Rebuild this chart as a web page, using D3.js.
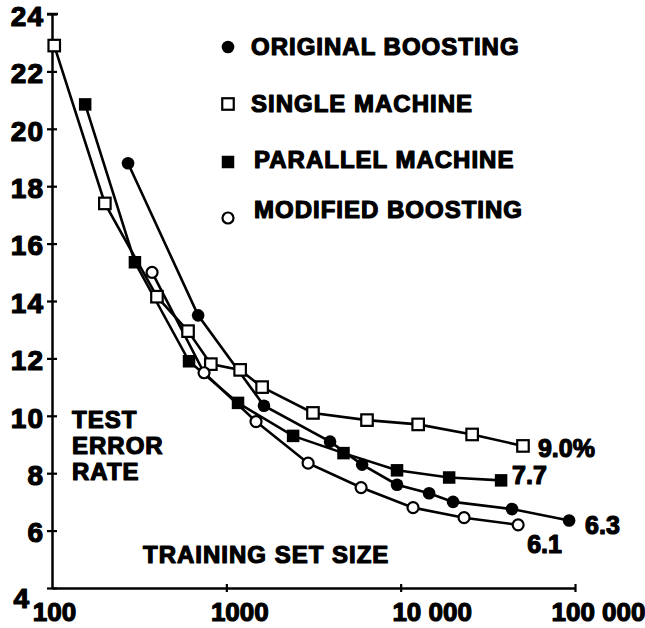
<!DOCTYPE html>
<html>
<head>
    <title></title>
    <style>
        body { margin: 0; background: #fff; }
        text { font-family: "Liberation Sans", Arial, sans-serif; font-weight: bold; fill: #000; stroke: #000; stroke-width: 1.2px; stroke-linejoin: round; }
    </style>
</head>
<body>
<div id="container"></div>

<script src="https://d3js.org/d3.v7.min.js" type="text/javascript"></script>
<script type="text/javascript">
    // data
    const seriesNames = ['ORIGINAL BOOSTING', 'SINGLE MACHINE', 'PARALLEL MACHINE', 'MODIFIED BOOSTING'];
    const endLabels = ['6.3', '9.0%', '7.7', '6.1'];

    const originalX = [273, 689, 1644, 3935, 6010, 9530, 14560, 19980, 43500, 92500];
    const originalY = [18.8, 13.5, 10.35, 9.1, 8.3, 7.6, 7.3, 7.0, 6.75, 6.35];

    const singleX = [103, 201, 400, 603, 815, 1200, 1604, 3140, 6410, 12600, 25700, 50300];
    const singleY = [22.9, 17.4, 14.15, 12.95, 11.8, 11.6, 11.0, 10.1, 9.85, 9.7, 9.35, 8.95];

    const parallelX = [155, 299, 611, 1167, 2416, 4700, 9530, 18970, 37670];
    const parallelY = [20.85, 15.35, 11.9, 10.45, 9.3, 8.7, 8.1, 7.85, 7.75];

    const modifiedX = [375, 745, 1480, 2945, 5930, 11780, 23100, 47200];
    const modifiedY = [15.0, 11.5, 9.8, 8.35, 7.5, 6.8, 6.45, 6.2];

    const xTicks = [100, 1000, 10000, 100000];
    const xTickLabels = ['100', '1000', '10 000', '100 000'];
    const yTicks = [4, 6, 8, 10, 12, 14, 16, 18, 20, 22, 24];

    // layout
    let w = 645;
    let h = 628;
    const margin = {top: 14, left: 52, right: 70, bottom: 40};

    const svg = d3.select('#container')
        .append('svg')
        .attr('width', w)
        .attr('height', h)

    let x = d3.scaleLog().domain([100, 100000]).range([margin.left, w - margin.right]);
    let y = d3.scaleLinear().domain([4, 24]).range([h - margin.bottom, margin.top]);

    // how the x labels sit against their ticks in the scan
    const xLabelShift = [2, 13, 31, 23];

    // axes
    let yAxis = d3.axisLeft(y).tickValues(yTicks).tickSizeInner(5).tickSizeOuter(0);
    let gy = svg.append('g')
        .attr('transform', `translate(${margin.left}, 0)`)
        .call(yAxis);
    gy.select('.domain').attr('stroke-width', 2.5);
    gy.selectAll('.tick line').attr('x1', 5).attr('stroke-width', 2.2);
    gy.selectAll('.tick text')
        .attr('x', -8)
        .attr('dy', '0.4em')
        .style('font-size', '28px')
        .style('letter-spacing', '1px');
    gy.selectAll('.tick text').filter(d => d === 4)
        .attr('x', -22)
        .attr('dy', '0.68em');

    let xAxis = d3.axisBottom(x).tickValues(xTicks).tickSizeInner(4).tickSizeOuter(0)
        .tickFormat((d, i) => xTickLabels[i]);
    let gx = svg.append('g')
        .attr('transform', `translate(0, ${y(4)})`)
        .call(xAxis);
    gx.select('.domain').attr('stroke-width', 2.5);
    gx.selectAll('.tick line').attr('y1', -4).attr('stroke-width', 2.2);
    gx.selectAll('.tick line').filter(d => d === 100).remove();
    gx.selectAll('.tick text')
        .attr('y', 33)
        .attr('dy', 0)
        .attr('dx', (d, i) => xLabelShift[i])
        .style('font-size', '26px');

    // top cross bar of the y axis
    svg.append('line')
        .attr('x1', margin.left - 5).attr('x2', margin.left + 6)
        .attr('y1', y(24)).attr('y2', y(24))
        .attr('stroke', '#000').attr('stroke-width', 2.5);

    // series
    const series = [
        {name: seriesNames[0], xs: originalX, ys: originalY, shape: 'circle', filled: true, label: endLabels[0], dx: 16, dy: 13},
        {name: seriesNames[1], xs: singleX, ys: singleY, shape: 'square', filled: false, label: endLabels[1], dx: 15, dy: 11},
        {name: seriesNames[2], xs: parallelX, ys: parallelY, shape: 'square', filled: true, label: endLabels[2], dx: 11, dy: 4},
        {name: seriesNames[3], xs: modifiedX, ys: modifiedY, shape: 'circle', filled: false, label: endLabels[3], dx: 9, dy: 28},
    ];

    let line = d3.line().x(d => x(d[0])).y(d => y(d[1]));

    function drawMarker(g, s, cx, cy) {
        if (s.shape === 'circle') {
            g.append('circle')
                .attr('cx', cx).attr('cy', cy)
                .attr('r', s.filled ? 6.3 : 5.5)
                .attr('fill', s.filled ? '#000' : '#fff')
                .attr('stroke', '#000')
                .attr('stroke-width', s.filled ? 0 : 2.2);
        } else {
            let a = s.filled ? 12.5 : 11.5;
            g.append('rect')
                .attr('x', cx - a / 2).attr('y', cy - a / 2)
                .attr('width', a).attr('height', a)
                .attr('fill', s.filled ? '#000' : '#fff')
                .attr('stroke', '#000')
                .attr('stroke-width', s.filled ? 0 : 2.2);
        }
    }

    const plot = svg.append('g');

    series.forEach(s => {
        let pts = s.xs.map((v, i) => [v, s.ys[i]]);
        plot.append('path')
            .datum(pts)
            .attr('d', line)
            .attr('fill', 'none')
            .attr('stroke', '#000')
            .attr('stroke-width', 2.6);
    });

    series.forEach(s => {
        s.xs.forEach((v, i) => drawMarker(plot, s, x(v), y(s.ys[i])));
        let last = s.xs.length - 1;
        plot.append('text')
            .attr('x', x(s.xs[last]) + s.dx)
            .attr('y', y(s.ys[last]) + s.dy)
            .style('font-size', '25px')
            .text(s.label);
    });

    // legend
    const legendTop = [55, 112, 168, 218];
    const markerY = [47, 104, 162, 218];
    const legend = svg.append('g');
    series.forEach((s, i) => {
        drawMarker(legend, s, 228, markerY[i]);
        legend.append('text')
            .attr('x', 251 + (i > 1 ? 3 : 0))
            .attr('y', legendTop[i])
            .style('font-size', '24px')
            .style('letter-spacing', '1px')
            .text(s.name);
    });

    // axis titles inside the frame
    const yTitle = ['TEST', 'ERROR', 'RATE'];
    svg.append('g').selectAll('text')
        .data(yTitle)
        .join('text')
        .attr('x', 72)
        .attr('y', (d, i) => 428 + i * 26)
        .style('font-size', '24px')
        .style('letter-spacing', '1px')
        .text(d => d);

    svg.append('text')
        .attr('x', 143)
        .attr('y', 563)
        .style('font-size', '24px')
        .style('letter-spacing', '1px')
        .text('TRAINING SET SIZE');
</script>

</body>
</html>
